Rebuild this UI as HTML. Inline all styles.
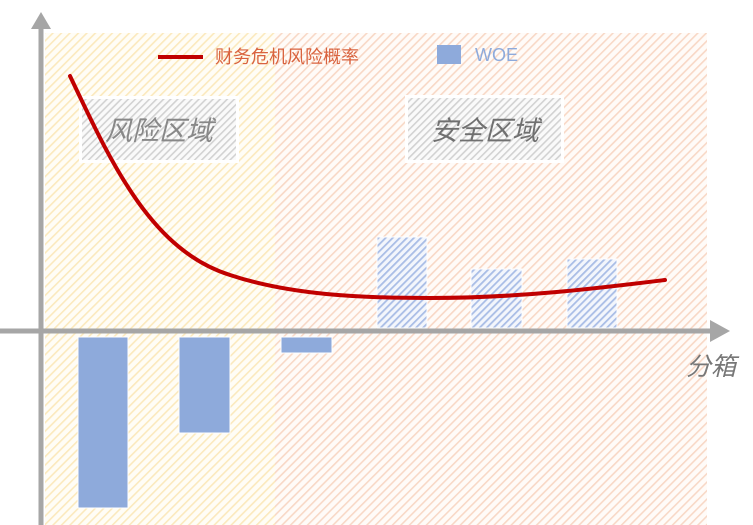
<!DOCTYPE html>
<html><head><meta charset="utf-8"><style>
html,body{margin:0;padding:0;background:#fff;}
svg{display:block;}
text{font-family:"Liberation Sans","Noto Sans CJK SC",sans-serif;}
</style></head><body>
<svg width="753" height="525" viewBox="0 0 753 525" xmlns="http://www.w3.org/2000/svg">
<defs>
<pattern id="py" width="6" height="6" patternUnits="userSpaceOnUse" patternTransform="rotate(45)">
<rect width="6" height="6" fill="#fffdf6"/><rect width="1.6" height="6" fill="#fbe9bd"/></pattern>
<pattern id="po" width="6" height="6" patternUnits="userSpaceOnUse" patternTransform="rotate(45)">
<rect width="6" height="6" fill="#fffbf8"/><rect width="1.6" height="6" fill="#f8d8c6"/></pattern>
<pattern id="pg" width="5" height="5" patternUnits="userSpaceOnUse" patternTransform="rotate(45)">
<rect width="5" height="5" fill="#fafafa"/><rect width="1.6" height="5" fill="#d2d2d2"/></pattern>
<pattern id="pb" width="5" height="5" patternUnits="userSpaceOnUse" patternTransform="rotate(45)">
<rect width="5" height="5" fill="#f3f6fc"/><rect width="1.8" height="5" fill="#a9bde6"/></pattern>
</defs>
<rect x="45" y="33" width="230" height="492" fill="url(#py)"/>
<rect x="275" y="33" width="432" height="492" fill="url(#po)"/>
<rect x="79" y="96" width="160" height="67" fill="#fff"/>
<rect x="82" y="99" width="154" height="61" fill="url(#pg)"/>
<text x="159" y="140" text-anchor="middle" font-size="27" font-style="italic" fill="#888">风险区域</text>
<rect x="405" y="95" width="159" height="68" fill="#fff"/>
<rect x="408" y="98" width="153" height="62" fill="url(#pg)"/>
<text x="485" y="140" text-anchor="middle" font-size="27" font-style="italic" fill="#707070">安全区域</text>
<line x1="158" y1="57" x2="203" y2="57" stroke="#c00000" stroke-width="4"/>
<text x="215" y="63" font-size="18" fill="#d9633f">财务危机风险概率</text>
<rect x="437" y="45" width="24" height="19" fill="#8eaadb"/>
<text x="475" y="61" font-size="18" fill="#8eaadb">WOE</text>
<rect x="78" y="337" width="50" height="171" fill="#8eaadb" stroke="#fff" stroke-width="1"/>
<rect x="179" y="337" width="51" height="96" fill="#8eaadb" stroke="#fff" stroke-width="1"/>
<rect x="281" y="337" width="51" height="16" fill="#8eaadb" stroke="#fff" stroke-width="1"/>
<rect x="377" y="237" width="50" height="91" fill="url(#pb)" stroke="#fff" stroke-width="1"/>
<rect x="471" y="269" width="51" height="59" fill="url(#pb)" stroke="#fff" stroke-width="1"/>
<rect x="567" y="259" width="50" height="69" fill="url(#pb)" stroke="#fff" stroke-width="1"/>
<line x1="41" y1="22" x2="41" y2="525" stroke="#a6a6a6" stroke-width="5"/>
<polygon points="41,12 31,29 51,29" fill="#a6a6a6"/>
<line x1="0" y1="331" x2="715" y2="331" stroke="#a6a6a6" stroke-width="5"/>
<polygon points="730,331 710,320 710,342" fill="#a6a6a6"/>
<text x="686" y="375" font-size="25" font-style="italic" fill="#777">分箱</text>
<path d="M70,76 C110,160 150,250 230,275 C290,295 360,298 430,298 C520,298 600,288 665,280" fill="none" stroke="#c00000" stroke-width="4" stroke-linecap="round"/>
</svg>
</body></html>
